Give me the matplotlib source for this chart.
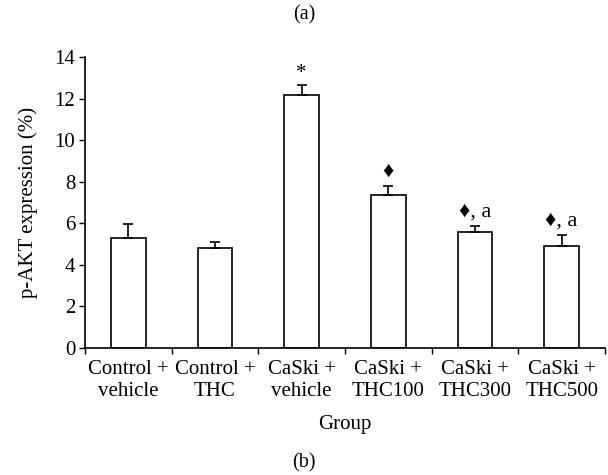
import matplotlib
matplotlib.use("Agg")
import matplotlib.pyplot as plt
import numpy as np

categories = ["Control +\nvehicle", "Control +\nTHC", "CaSki +\nvehicle",
              "CaSki +\nTHC100", "CaSki +\nTHC300", "CaSki +\nTHC500"]
values = [5.27, 4.79, 12.16, 7.36, 5.59, 4.90]
errors = [0.68, 0.30, 0.50, 0.42, 0.29, 0.53]
annotations = ["", "", "*", "\u2666", "\u2666, a", "\u2666, a"]
yticks = [0, 2, 4, 6, 8, 10, 12, 14]

FONT = ["Liberation Serif", "DejaVu Serif"]
plt.rcParams["font.family"] = FONT

fig = plt.figure(figsize=(6.08, 4.75), dpi=100)
ax = fig.add_axes([85/608, 1-348/475, 520/608, (348-57)/475])

x = np.arange(len(categories))
ax.bar(x, values, width=0.40, color="white", edgecolor="black", linewidth=1.2, zorder=2)
ax.errorbar(x, values, yerr=[np.zeros(len(values)), errors], fmt="none",
            ecolor="black", elinewidth=1.2, capsize=3.5, capthick=1.2, zorder=3)

for xi, v, e, t in zip(x, values, errors, annotations):
    if not t:
        continue
    if t == "*":
        ax.text(xi, v + e + 0.1, t, ha="center", va="bottom", fontsize=15)
    else:
        ax.text(xi, v + e + 0.2, t, ha="center", va="bottom", fontsize=16)

ax.set_xlim(-0.5, len(categories) - 0.5)
ax.set_ylim(0, 14)
ax.set_yticks(yticks)
ax.tick_params(axis="y", direction="out", length=4, width=1, labelsize=15, pad=3)
ax.set_xticks(x)
ax.set_xticklabels(categories, fontsize=15)
ax.tick_params(axis="x", which="major", length=0, pad=9)
ax.set_xticks(np.arange(-0.5, len(categories)), minor=True)
ax.tick_params(axis="x", which="minor", direction="out", length=4, width=1)

for s in ["top", "right"]:
    ax.spines[s].set_visible(False)
for s in ["left", "bottom"]:
    ax.spines[s].set_linewidth(1.2)

ax.set_ylabel("p-AKT expression (%)", fontsize=15, labelpad=12)
fig.text((85+605)/2/608, 1-424/475, "Group", ha="center", va="center", fontsize=15)
fig.text(0.5, 1-15/475, "(a)", ha="center", va="center", fontsize=14.5)
fig.text(0.5, 1-463/475, "(b)", ha="center", va="center", fontsize=14.5)

fig.savefig("out.png", dpi=100)
